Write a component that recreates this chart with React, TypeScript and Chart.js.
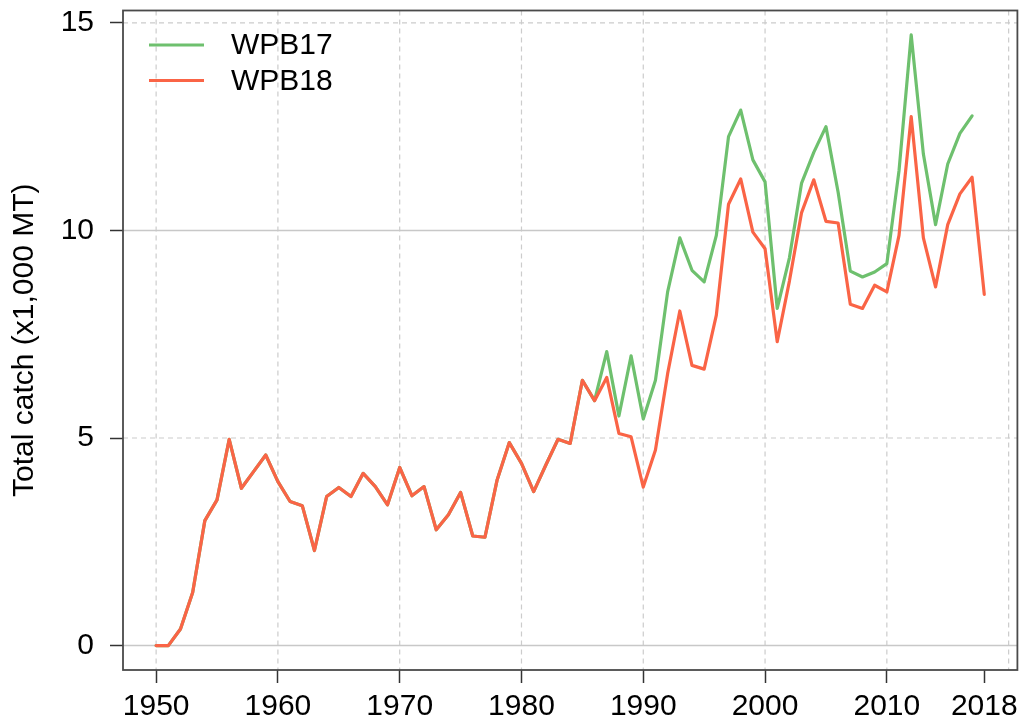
import React, { useEffect, useRef } from "react";
import { Chart, registerables } from "chart.js";

Chart.register(...registerables);

// ---------- data ----------
const yearsWPB18 = [
  1950, 1951, 1952, 1953, 1954, 1955, 1956, 1957, 1958, 1959,
  1960, 1961, 1962, 1963, 1964, 1965, 1966, 1967, 1968, 1969,
  1970, 1971, 1972, 1973, 1974, 1975, 1976, 1977, 1978, 1979,
  1980, 1981, 1982, 1983, 1984, 1985, 1986, 1987, 1988, 1989,
  1990, 1991, 1992, 1993, 1994, 1995, 1996, 1997, 1998, 1999,
  2000, 2001, 2002, 2003, 2004, 2005, 2006, 2007, 2008, 2009,
  2010, 2011, 2012, 2013, 2014, 2015, 2016, 2017, 2018,
];

const valuesWPB18 = [
  0, 0, 0.4, 1.28, 3.01, 3.51, 4.97, 3.79, 4.19, 4.59,
  3.95, 3.47, 3.37, 2.29, 3.59, 3.81, 3.59, 4.15, 3.83, 3.39,
  4.29, 3.61, 3.83, 2.79, 3.15, 3.69, 2.64, 2.61, 3.99, 4.89,
  4.39, 3.71, 4.35, 4.97, 4.87, 6.39, 5.9, 6.46, 5.11, 5.03,
  3.82, 4.71, 6.55, 8.06, 6.75, 6.66, 7.96, 10.63, 11.24, 9.96,
  9.56, 7.32, 8.78, 10.43, 11.22, 10.22, 10.18, 8.22, 8.12, 8.68,
  8.52, 9.88, 12.74, 9.82, 8.64, 10.14, 10.88, 11.28, 8.46,
];

const yearsWPB17 = [
  1950, 1951, 1952, 1953, 1954, 1955, 1956, 1957, 1958, 1959,
  1960, 1961, 1962, 1963, 1964, 1965, 1966, 1967, 1968, 1969,
  1970, 1971, 1972, 1973, 1974, 1975, 1976, 1977, 1978, 1979,
  1980, 1981, 1982, 1983, 1984, 1985, 1986, 1987, 1988, 1989,
  1990, 1991, 1992, 1993, 1994, 1995, 1996, 1997, 1998, 1999,
  2000, 2001, 2002, 2003, 2004, 2005, 2006, 2007, 2008, 2009,
  2010, 2011, 2012, 2013, 2014, 2015, 2016, 2017,
];

const valuesWPB17 = [
  0, 0, 0.4, 1.28, 3.01, 3.51, 4.97, 3.79, 4.19, 4.59,
  3.95, 3.47, 3.37, 2.29, 3.59, 3.81, 3.59, 4.15, 3.83, 3.39,
  4.29, 3.61, 3.83, 2.79, 3.15, 3.69, 2.64, 2.61, 3.99, 4.89,
  4.39, 3.71, 4.35, 4.97, 4.87, 6.39, 5.9, 7.08, 5.53, 6.98,
  5.46, 6.39, 8.52, 9.82, 9.04, 8.76, 9.88, 12.26, 12.9, 11.7,
  11.17, 8.12, 9.34, 11.14, 11.88, 12.5, 10.92, 9.02, 8.88, 9.0,
  9.2, 11.44, 14.71, 11.84, 10.14, 11.6, 12.34, 12.76,
];

const xTickYears = [1950, 1960, 1970, 1980, 1990, 2000, 2010, 2018];
const xGridYears = [1950, 1960, 1970, 1980, 1990, 2000, 2010, 2020];
const yTicks = [0, 5, 10, 15];
const ySolidGrid = [0, 10];
const yDashedGrid = [5, 15];

const seriesNames = ["WPB17", "WPB18"];
const seriesColors = ["#6ec06e", "#fa6446"];
const yTitle = "Total catch (x1,000 MT)";

const FONT = "'Liberation Sans', Arial, sans-serif";
const FS = 30;

const rPlotPlugin = {
  id: "rPlot",
  beforeDatasetsDraw(chart: any) {
    const { ctx, chartArea: a, scales } = chart;
    const x = scales.x;
    const y = scales.y;
    ctx.save();
    ctx.strokeStyle = "#cccccc";
    ctx.lineWidth = 1.2;
    ctx.setLineDash([5, 4]);
    for (const v of xGridYears) {
      const px = x.getPixelForValue(v);
      ctx.beginPath();
      ctx.moveTo(px, a.top);
      ctx.lineTo(px, a.bottom);
      ctx.stroke();
    }
    for (const v of yDashedGrid) {
      const py = y.getPixelForValue(v);
      ctx.beginPath();
      ctx.moveTo(a.left, py);
      ctx.lineTo(a.right, py);
      ctx.stroke();
    }
    ctx.setLineDash([]);
    ctx.strokeStyle = "#c8c8c8";
    ctx.lineWidth = 1.5;
    for (const v of ySolidGrid) {
      const py = y.getPixelForValue(v);
      ctx.beginPath();
      ctx.moveTo(a.left, py);
      ctx.lineTo(a.right, py);
      ctx.stroke();
    }
    ctx.restore();
  },
  afterDatasetsDraw(chart: any) {
    const { ctx, chartArea: a } = chart;
    ctx.save();
    // box
    ctx.strokeStyle = "#4a4a4a";
    ctx.lineWidth = 1.8;
    ctx.strokeRect(a.left, a.top, a.right - a.left, a.bottom - a.top);
    // legend
    const lx0 = a.left + 26;
    const lx1 = a.left + 81;
    const tx = a.left + 108;
    const rows = [a.top + 34.5, a.top + 70];
    ctx.font = `${FS}px ${FONT}`;
    ctx.textBaseline = "middle";
    ctx.textAlign = "left";
    chart.data.datasets.forEach((ds: any) => {
      const idx = seriesNames.indexOf(ds.label);
      const ly = rows[idx];
      ctx.strokeStyle = ds.borderColor;
      ctx.lineWidth = 3;
      ctx.beginPath();
      ctx.moveTo(lx0, ly);
      ctx.lineTo(lx1, ly);
      ctx.stroke();
      ctx.fillStyle = "#000";
      ctx.fillText(ds.label, tx, ly + 1);
    });
    ctx.restore();
  },
};

export default function App() {
  const ref = useRef<HTMLCanvasElement | null>(null);

  useEffect(() => {
    const canvas = ref.current;
    if (!canvas) return;
    const chart = new Chart(canvas, {
      type: "line",
      data: {
        datasets: [
          {
            label: seriesNames[0],
            data: yearsWPB17.map((yr, i) => ({ x: yr, y: valuesWPB17[i] })),
            borderColor: seriesColors[0],
            backgroundColor: seriesColors[0],
            borderWidth: 3.2,
            pointRadius: 0,
            tension: 0,
            borderJoinStyle: "round",
            borderCapStyle: "round",
            order: 1,
          },
          {
            label: seriesNames[1],
            data: yearsWPB18.map((yr, i) => ({ x: yr, y: valuesWPB18[i] })),
            borderColor: seriesColors[1],
            backgroundColor: seriesColors[1],
            borderWidth: 3.2,
            pointRadius: 0,
            tension: 0,
            borderJoinStyle: "round",
            borderCapStyle: "round",
            order: 0,
          },
        ],
      },
      options: {
        animation: false,
        responsive: false,
        devicePixelRatio: 1,
        layout: { padding: { top: 10.5, right: 3.6, left: 0, bottom: 0 } },
        plugins: {
          legend: { display: false },
          tooltip: { enabled: false },
        },
        scales: {
          x: {
            type: "linear",
            min: 1947.28,
            max: 2020.72,
            afterBuildTicks: (s: any) => {
              s.ticks = xTickYears.map((v) => ({ value: v }));
            },
            afterFit: (s: any) => {
              s.height = 56;
              s.paddingLeft = 0;
              s.paddingRight = 0;
            },
            grid: {
              drawOnChartArea: false,
              drawTicks: true,
              tickLength: 13,
              tickColor: "#333",
              tickWidth: 1.5,
            },
            border: { display: false },
            ticks: {
              autoSkip: false,
              maxRotation: 0,
              padding: 6,
              color: "#000",
              font: { family: FONT, size: FS },
              callback: (v: any) => String(v),
            },
          },
          y: {
            type: "linear",
            min: -0.588,
            max: 15.298,
            afterBuildTicks: (s: any) => {
              s.ticks = yTicks.map((v) => ({ value: v }));
            },
            afterFit: (s: any) => {
              s.width = 123;
              s.paddingTop = 0;
              s.paddingBottom = 0;
            },
            grid: {
              drawOnChartArea: false,
              drawTicks: true,
              tickLength: 13,
              tickColor: "#333",
              tickWidth: 1.5,
            },
            border: { display: false },
            ticks: {
              padding: 16,
              color: "#000",
              font: { family: FONT, size: FS },
              callback: (v: any) => String(v),
            },
            title: {
              display: true,
              text: yTitle,
              color: "#000",
              font: { family: FONT, size: FS },
              padding: { top: 7, bottom: 0 },
            },
          },
        },
      },
      plugins: [rPlotPlugin],
    });
    return () => chart.destroy();
  }, []);

  return (
    <div style={{ position: "absolute", left: 0, top: 0, width: 1021, height: 726, background: "#fff" }}>
      <canvas ref={ref} width={1021} height={726} style={{ display: "block" }} />
    </div>
  );
}
